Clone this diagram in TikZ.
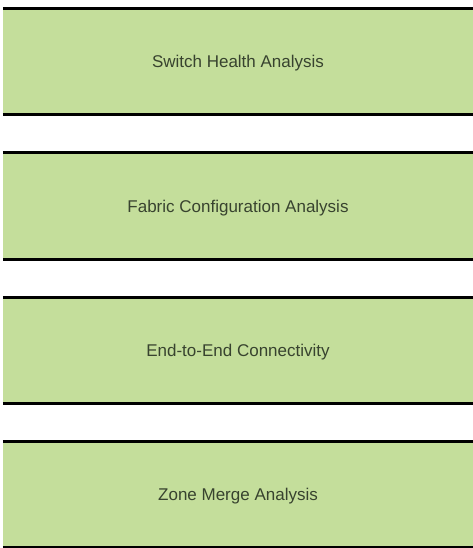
\documentclass[tikz,border=0pt]{standalone}
\usepackage{fontspec}
\setmainfont{Liberation Sans}
\definecolor{stagegreen}{HTML}{C4DE9B}
\definecolor{stagetext}{HTML}{38432F}
\tikzset{
  stage/.style={fill=stagegreen, minimum width=470pt, minimum height=105pt, inner sep=0pt,
    text depth=0pt, text=stagetext, font=\fontsize{17}{20}\selectfont},
  edge/.style={line width=2.8pt, black}
}
\begin{document}
\begin{tikzpicture}[x=1pt, y=1pt]
				\useasboundingbox (0,0) rectangle (473,-548);
				\node[stage] (health) at (238,-61.5) {Switch Health Analysis};
				\node[stage, minimum height=106pt] (fabric) at (238,-206) {Fabric Configuration Analysis};
				\node[stage] (connect) at (238,-350.5) {End-to-End Connectivity};
				\node[stage] (zone) at (238,-494.5) {Zone Merge Analysis};
				\draw [edge] (health.north west) -- (health.north east);
				\draw [edge] (health.south west) -- (health.south east);
				\draw [edge] (fabric.north west) -- (fabric.north east);
				\draw [edge] (fabric.south west) -- (fabric.south east);
				\draw [edge] (connect.north west) -- (connect.north east);
				\draw [edge] (connect.south west) -- (connect.south east);
				\draw [edge] (zone.north west) -- (zone.north east);
				\draw [edge] (zone.south west) -- (zone.south east);
				\end{tikzpicture}
\end{document}
